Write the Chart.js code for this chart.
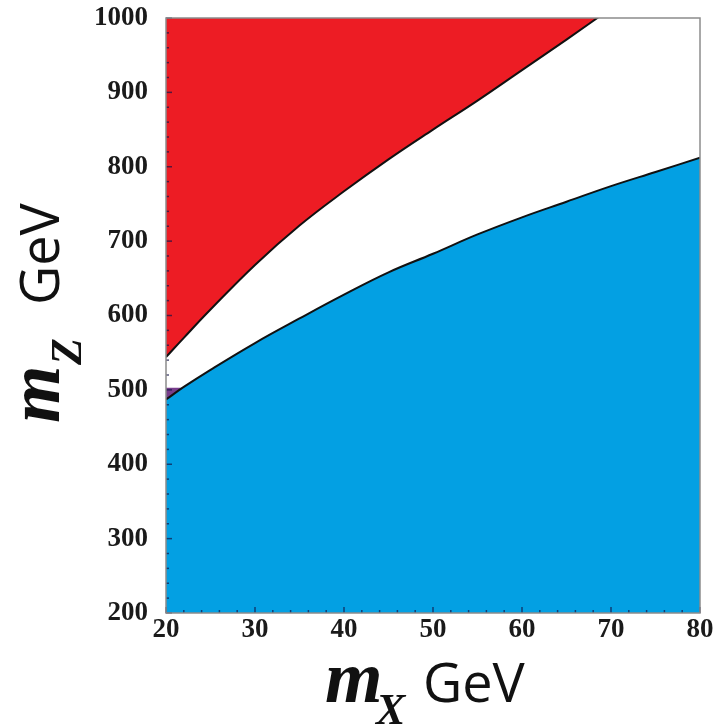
<!DOCTYPE html>
<html>
<head>
<meta charset="utf-8">
<script src="https://cdn.jsdelivr.net/npm/chart.js@4.4.0/dist/chart.umd.min.js"></script>
<style>
  html, body { margin: 0; padding: 0; background: #fff; }
</style>
</head>
<body>
<canvas id="regionChart" width="721" height="727"></canvas>
<script>
// m_X (GeV) vs m_Z (GeV) boundaries

// upper boundary: red region above it
const upperX = [20, 22, 25, 30, 35, 40, 45, 50, 55, 60, 65, 70];
const upperZ = [544, 570, 608, 668, 721, 767, 810, 850, 889, 930, 971, 1013];

// lower boundary: blue region below it
const lowerX = [20, 22, 25, 30, 35, 40, 45, 50, 55, 60, 65, 70, 75, 80];
const lowerZ = [487, 504, 527, 563, 596, 628, 658, 683, 709, 732, 753, 774, 793, 812];

// small overlap sliver at the left edge
const overlapX = [20, 22];
const overlapZ = [503, 503];

const xTicks = { min: 20, max: 80, step: 10 };
const yTicks = { min: 200, max: 1000, step: 100 };

const tickFont = { family: 'Liberation Serif', size: 27, weight: 'bold' };

function toPoints(xs, ys) {
  return xs.map((x, i) => ({ x: x, y: ys[i] }));
}

// frame + small inward tick marks
const framePlugin = {
  id: 'frame',
  afterDatasetsDraw(chart) {
    const ctx = chart.ctx;
    const a = chart.chartArea;
    const xs = chart.scales.x;
    const ys = chart.scales.y;
    ctx.save();
    ctx.strokeStyle = 'rgba(20,20,70,0.7)';
    ctx.lineWidth = 1.5;
    for (let v = xTicks.min; v <= xTicks.max; v += 2) {
      const px = xs.getPixelForValue(v);
      const len = v % 10 === 0 ? 6 : 3;
      ctx.beginPath();
      ctx.moveTo(px, a.bottom);
      ctx.lineTo(px, a.bottom - len);
      ctx.stroke();
    }
    for (let v = yTicks.min; v <= yTicks.max; v += 20) {
      const py = ys.getPixelForValue(v);
      const len = v % 100 === 0 ? 6 : 3;
      ctx.beginPath();
      ctx.moveTo(a.left, py);
      ctx.lineTo(a.left + len, py);
      ctx.stroke();
    }
    ctx.strokeStyle = '#8c8c8c';
    ctx.lineWidth = 1.5;
    ctx.strokeRect(a.left, a.top, a.right - a.left, a.bottom - a.top);
    ctx.restore();
  }
};

// axis titles: italic m with subscript, then GeV
const titlePlugin = {
  id: 'axisTitles',
  afterDraw(chart) {
    const ctx = chart.ctx;
    const mFont = 'italic bold 74px "Liberation Serif"';
    const subFont = 'italic bold 44px "Liberation Serif"';
    const unitFont = '54px "Open Sans"';
    ctx.save();
    ctx.fillStyle = '#111';
    ctx.textBaseline = 'alphabetic';
    ctx.textAlign = 'left';

    // x title
    ctx.font = mFont;
    ctx.fillText('m', 325, 702);
    ctx.font = subFont;
    ctx.fillText('X', 376, 724);
    ctx.font = unitFont;
    ctx.fillText('GeV', 423, 702);

    // y title
    ctx.translate(59, 423);
    ctx.rotate(-Math.PI / 2);
    ctx.font = mFont;
    ctx.fillText('m', 0, 0);
    ctx.font = subFont;
    ctx.fillText('Z', 58, 22);
    ctx.font = unitFont;
    ctx.fillText('GeV', 118, 0);
    ctx.restore();
  }
};

const ctx = document.getElementById('regionChart');

new Chart(ctx, {
  type: 'line',
  data: {
    datasets: [{
      label: 'upper',
      data: toPoints(upperX, upperZ),
      borderColor: '#111',
      borderWidth: 2,
      backgroundColor: 'rgb(237, 28, 36)',
      fill: 'end',
      pointRadius: 0,
      tension: 0.4
    }, {
      label: 'lower',
      data: toPoints(lowerX, lowerZ),
      borderColor: '#111',
      borderWidth: 2,
      backgroundColor: 'rgb(3, 160, 227)',
      fill: 'start',
      pointRadius: 0,
      tension: 0.4
    }, {
      label: 'overlap',
      data: toPoints(overlapX, overlapZ),
      borderWidth: 0,
      borderColor: 'rgba(0,0,0,0)',
      backgroundColor: 'rgb(120, 62, 140)',
      fill: 1,
      pointRadius: 0
    }]
  },
  options: {
    responsive: false,
    animation: false,
    layout: {
      padding: { top: 18, right: 21, left: 0, bottom: 0 }
    },
    plugins: {
      legend: { display: false },
      tooltip: { enabled: false }
    },
    scales: {
      x: {
        type: 'linear',
        min: xTicks.min,
        max: xTicks.max,
        ticks: {
          stepSize: xTicks.step,
          font: tickFont,
          color: '#1a1a1a',
          padding: -7,
          callback: v => String(v)
        },
        grid: { display: false },
        border: { display: false },
        afterFit: scale => {
          scale.height = 114;
          scale.paddingLeft = 0;
          scale.paddingRight = 0;
        }
      },
      y: {
        type: 'linear',
        min: yTicks.min,
        max: yTicks.max,
        ticks: {
          stepSize: yTicks.step,
          font: tickFont,
          color: '#1a1a1a',
          padding: 10,
          callback: v => String(v)
        },
        grid: { display: false },
        border: { display: false },
        afterFit: scale => {
          scale.width = 166;
          scale.paddingTop = 0;
          scale.paddingBottom = 0;
        }
      }
    }
  },
  plugins: [framePlugin, titlePlugin]
});
</script>
</body>
</html>
